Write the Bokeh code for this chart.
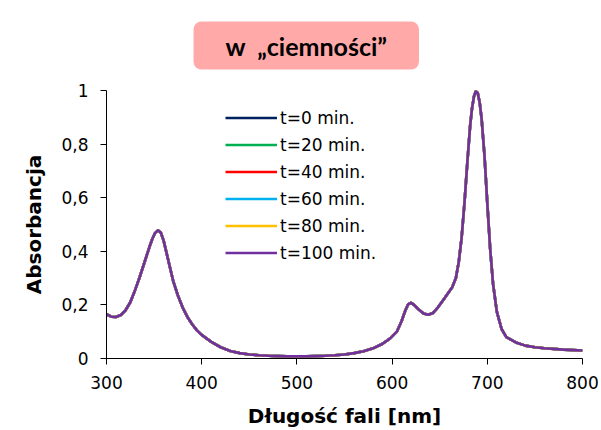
from bokeh.plotting import figure
from bokeh.models import Range1d, FixedTicker, Legend, LegendItem, Title
from bokeh.embed import file_html
from bokeh.resources import INLINE

# ---- data ----
wavelength = [300, 305, 310, 315, 320, 325, 330, 335, 340, 345, 348, 351, 354, 357, 360, 363, 366,
              370, 375, 380, 385, 390, 395, 400, 410, 420, 430, 440, 450, 460, 470, 480,
              490, 500, 510, 520, 530, 540, 550, 560, 570, 580, 590, 598, 605, 610, 614, 617,
              620, 623, 628, 633, 638, 643, 648, 653, 658, 663, 667, 670, 673, 676, 679,
              682, 684, 686, 688, 690, 692, 694, 697, 700, 703, 706, 710, 715, 720, 730, 740, 750,
              760, 780, 800]
absorbance = [0.165, 0.156, 0.155, 0.162, 0.18, 0.21, 0.255, 0.305, 0.36, 0.415, 0.445, 0.468, 0.478,
              0.47, 0.44, 0.395, 0.35, 0.29, 0.235, 0.19, 0.155, 0.128, 0.105, 0.088, 0.062, 0.042,
              0.028, 0.020, 0.015, 0.012, 0.010, 0.009, 0.008, 0.008, 0.008, 0.009, 0.010, 0.012,
              0.015, 0.020, 0.027, 0.038, 0.055, 0.075, 0.10, 0.14, 0.18, 0.203, 0.208, 0.200,
              0.183, 0.168, 0.163, 0.170, 0.190, 0.215, 0.240, 0.265, 0.30, 0.36, 0.45,
              0.58, 0.73, 0.87, 0.935, 0.978, 0.998, 0.99, 0.955, 0.895, 0.76, 0.58, 0.41, 0.28,
              0.175, 0.11, 0.08, 0.06, 0.048, 0.042, 0.038, 0.033, 0.030]

# all time points coincide in the reference (spectrum unchanged in darkness)
series_labels = ["t=0 min.", "t=20 min.", "t=40 min.", "t=60 min.", "t=80 min.", "t=100 min."]
series_values = [absorbance, absorbance, absorbance, absorbance, absorbance, absorbance]
series_colors = ["#002060", "#00B050", "#FF0000", "#00B0F0", "#FFC000", "#7030A0"]

x_ticks = [300, 400, 500, 600, 700, 800]
y_ticks = [0, 0.2, 0.4, 0.6, 0.8, 1]
y_tick_labels = ["0", "0,2", "0,4", "0,6", "0,8", "1"]

title_text = "w\u00a0\u00a0\u201eciemno\u015bci\u201d"
x_label = "D\u0142ugo\u015b\u0107 fali [nm]"
y_label = "Absorbancja"

p = figure(width=601, height=430, output_backend="svg", toolbar_location=None,
           x_range=Range1d(300, 800), y_range=Range1d(0, 1),
           min_border_left=106, min_border_right=19, min_border_top=90, min_border_bottom=72)
try:
    p.title = None
except Exception:
    p.title.text = ""
p.outline_line_color = None
p.xgrid.visible = False
p.ygrid.visible = False
p.background_fill_color = "white"
p.border_fill_color = "white"

items = []
for lab, vals, col in zip(series_labels, series_values, series_colors):
    r = p.line(wavelength, vals, line_color=col, line_width=2.6, line_join="round")
    items.append(LegendItem(label=lab, renderers=[r]))

legend = Legend(items=items, location=(119, 92), padding=0, spacing=0, margin=0,
                label_height=27, glyph_height=27, glyph_width=52, label_standoff=3,
                background_fill_alpha=0, border_line_alpha=0,
                label_text_font="DejaVu Sans", label_text_font_size="17px",
                label_text_color="#000000")
p.add_layout(legend, "center")

for ax in (p.xaxis[0], p.yaxis[0]):
    ax.axis_line_color = "#000000"
    ax.major_tick_line_color = "#000000"
    ax.major_tick_out = 6
    ax.major_tick_in = 0
    ax.minor_tick_line_color = None
    ax.major_label_text_font = "DejaVu Sans"
    ax.major_label_text_font_size = "17px"
    ax.major_label_text_color = "#000000"
    ax.axis_label_text_font = "DejaVu Sans"
    ax.axis_label_text_font_size = "20px"
    ax.axis_label_text_font_style = "bold"
    ax.axis_label_text_color = "#000000"

p.xaxis.ticker = FixedTicker(ticks=x_ticks)
p.yaxis.ticker = FixedTicker(ticks=y_ticks)
p.yaxis.major_label_overrides = dict(zip(y_ticks, y_tick_labels))
p.xaxis.axis_label = x_label
p.yaxis.axis_label = y_label
p.xaxis.major_label_standoff = 11
p.yaxis.major_label_standoff = 12
p.xaxis.axis_label_standoff = 12
p.yaxis.axis_label_standoff = 12

title_box = Title(text=title_text, align="left", offset=87, standoff=38, vertical_align="top",
                  text_font="Lato", text_font_size="25px", text_font_style="bold",
                  text_color="#000000", background_fill_color="#FFA9A9",
                  padding=dict(left=32, right=32, top=9, bottom=9), border_radius=8)
p.add_layout(title_box, "above")

open("out.html", "w").write(file_html(p, INLINE))
